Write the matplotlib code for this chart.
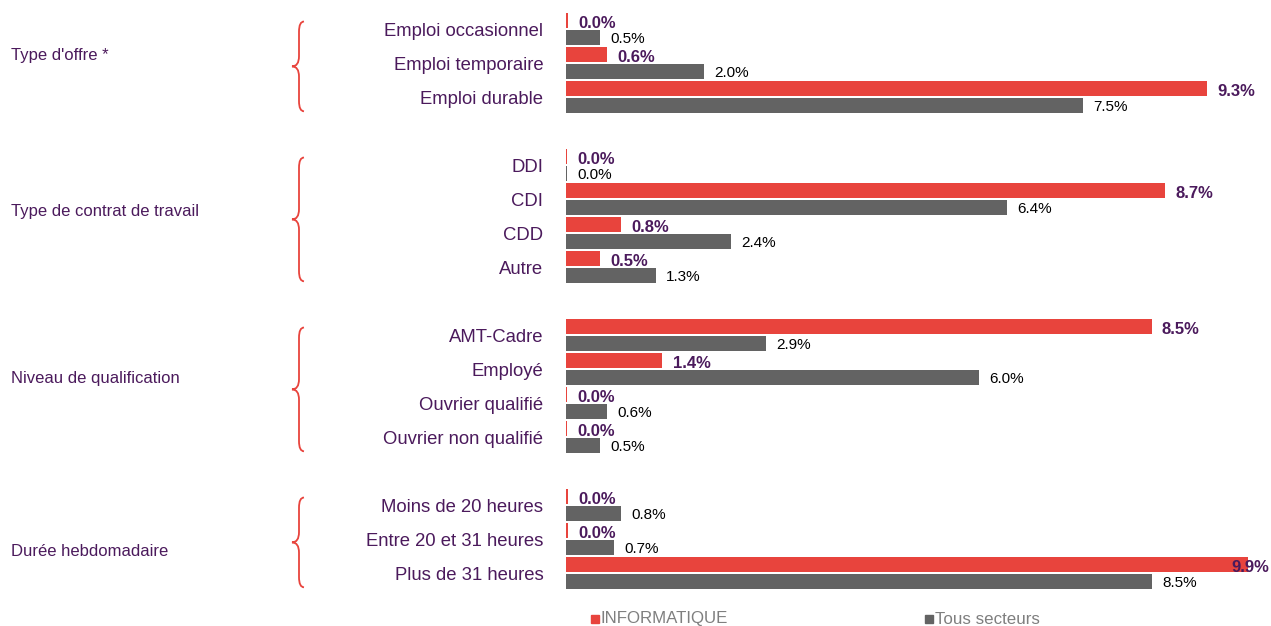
import numpy as np
import matplotlib.pyplot as plt
from matplotlib.path import Path
from matplotlib.patches import PathPatch, Rectangle
from matplotlib.transforms import blended_transform_factory

plt.rcParams['font.family'] = ['Liberation Sans', 'DejaVu Sans']

groups = ["Type d'offre *", "Type de contrat de travail",
          "Niveau de qualification", "Durée hebdomadaire"]
categories = [
    ["Emploi occasionnel", "Emploi temporaire", "Emploi durable"],
    ["DDI", "CDI", "CDD", "Autre"],
    ["AMT-Cadre", "Employé", "Ouvrier qualifié", "Ouvrier non qualifié"],
    ["Moins de 20 heures", "Entre 20 et 31 heures", "Plus de 31 heures"],
]
informatique = [
    [0.03, 0.6, 9.3],
    [0.01, 8.7, 0.8, 0.5],
    [8.5, 1.4, 0.02, 0.02],
    [0.03, 0.03, 9.9],
]
tous_secteurs = [
    [0.5, 2.0, 7.5],
    [0.01, 6.4, 2.4, 1.3],
    [2.9, 6.0, 0.6, 0.5],
    [0.8, 0.7, 8.5],
]

RED = '#E8443D'
GREY = '#636363'
PURPLE = '#4B1A5C'

fig = plt.figure(figsize=(12.71, 6.26), dpi=100)
ax = fig.add_axes([566 / 1271, 1 - 590 / 626, 703 / 1271, 578 / 626])
ax.set_xlim(0, 703 / 68.9)
ax.set_ylim(16.5, -0.5)
ax.axis('off')

tr_lbl = blended_transform_factory(fig.transFigure, ax.transData)
px = 1 / 1271.0
label_shift = [0.79, 1.38, 1.29, 1.38]   # group label placement (rows below first)

row = 0
for g, cats in enumerate(categories):
    first = row
    for c, cat in enumerate(cats):
        vr = informatique[g][c]
        vg = tous_secteurs[g][c]
        ax.barh(row - 0.25, vr, height=0.46, color=RED, edgecolor='none')
        ax.barh(row + 0.25, vg, height=0.46, color=GREY, edgecolor='none')
        ax.text(-0.33, row + 0.08, cat, ha='right', va='center', fontsize=13.3, color=PURPLE)
        if vr > 9.5:
            ax.text(ax.get_xlim()[1], row - 0.17, f"{vr:.1f}%", ha='right', va='center',
                    fontsize=12, fontweight='bold', color=PURPLE)
        else:
            ax.text(vr + 0.15, row - 0.17, f"{vr:.1f}%", ha='left', va='center',
                    fontsize=12, fontweight='bold', color=PURPLE)
        ax.text(vg + 0.15, row + 0.3, f"{vg:.1f}%", ha='left', va='center',
                fontsize=11, color='black')
        row += 1
    last = row - 1

    # brace
    y0 = first - 0.22
    y1 = last + 0.42
    ym = (y0 + y1) / 2
    xr = 304 * px
    xl = 299 * px
    xp = 292 * px
    dy = 0.3
    verts = [(xr, y0), (xl, y0), (xl, y0 + dy),
             (xl, ym - dy),
             (xl, ym), (xp, ym), (xp, ym),
             (xl, ym), (xl, ym + dy),
             (xl, y1 - dy),
             (xl, y1), (xr, y1), (xr, y1)]
    codes = [Path.MOVETO, Path.CURVE3, Path.CURVE3,
             Path.LINETO,
             Path.CURVE3, Path.CURVE3, Path.LINETO,
             Path.CURVE3, Path.CURVE3,
             Path.LINETO,
             Path.CURVE3, Path.CURVE3, Path.LINETO]
    ax.add_patch(PathPatch(Path(verts, codes), transform=tr_lbl, fill=False,
                           edgecolor=RED, lw=1.3, clip_on=False))
    ax.text(11 * px, first + label_shift[g], groups[g], transform=tr_lbl,
            ha='left', va='center', fontsize=12, color=PURPLE)
    row += 1

# legend
for x0, col, lab in [(591, RED, 'INFORMATIQUE'), (925, GREY, 'Tous secteurs')]:
    fig.patches.append(Rectangle((x0 * px, 1 - 623 / 626), 8 * px, 8 / 626,
                                 transform=fig.transFigure, color=col))
    fig.text((x0 + 10) * px, 1 - 619 / 626, lab, ha='left', va='center',
             fontsize=12.2, color='#7F7F7F')

fig.savefig('out.png', dpi=100)
